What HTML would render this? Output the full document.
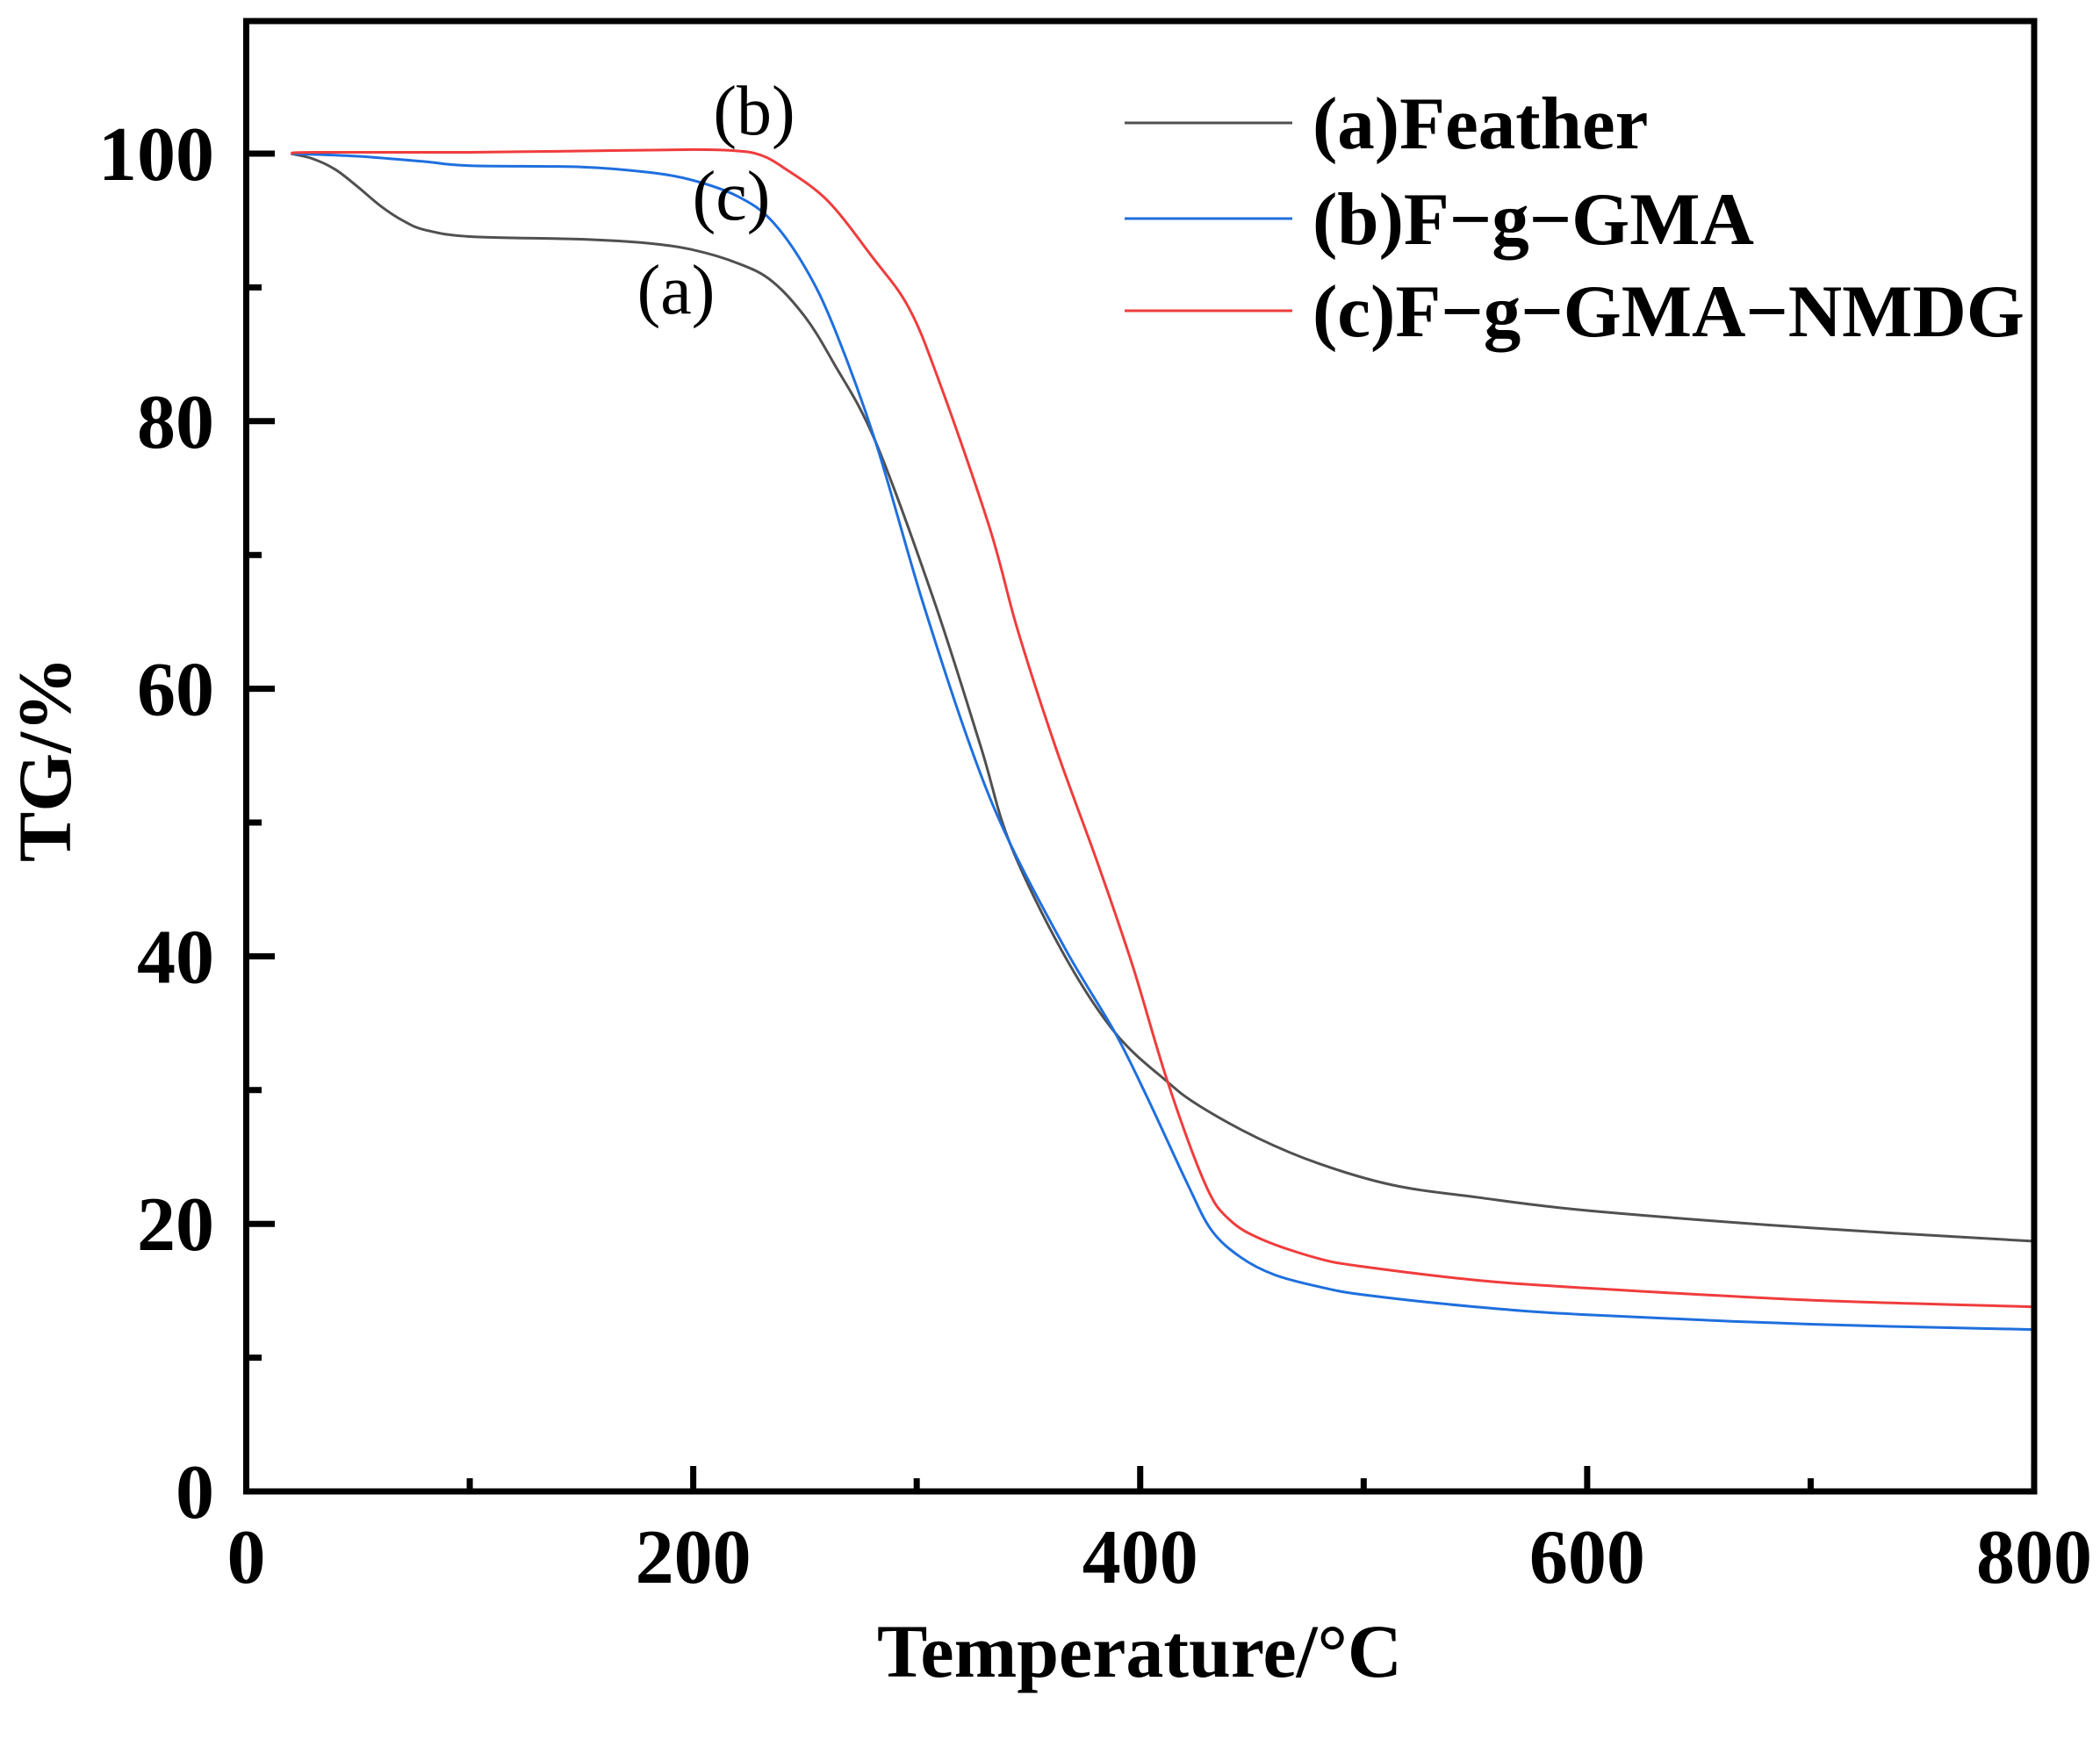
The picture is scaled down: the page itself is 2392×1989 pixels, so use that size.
<!DOCTYPE html>
<html><head><meta charset="utf-8">
<style>
html,body{margin:0;padding:0;background:#fff;}
svg{display:block;}
text{font-family:"Liberation Serif",serif;}
</style></head>
<body>
<svg id="s" width="2392" height="1989" viewBox="0 0 2392 1989" xmlns="http://www.w3.org/2000/svg">
<g id="curves" fill="none" stroke-width="3" stroke-linejoin="round"></g>
<rect x="280.5" y="24" width="2036.5" height="1675" fill="none" stroke="#000" stroke-width="7"/>
<g id="ticks" stroke="#000" stroke-width="7"></g>
<g font-weight="bold" font-size="88" fill="#000" id="labels"></g>
<text x="1298" y="1910" font-size="86" font-weight="bold" text-anchor="middle">Temperature/°C</text>
<text transform="translate(80,865) rotate(-90)" font-size="86" font-weight="bold" text-anchor="middle">TG/%</text>
<line x1="1281" y1="140" x2="1472" y2="140" stroke="#505050" stroke-width="3"/>
<line x1="1281" y1="249" x2="1472" y2="249" stroke="#1f6fde" stroke-width="3"/>
<line x1="1281" y1="354" x2="1472" y2="354" stroke="#f03c3c" stroke-width="3"/>
<g font-size="85" font-weight="bold">
<text x="1495" y="169">(a)Feather</text>
<text x="1495" y="278">(b)F−g−GMA</text>
<text x="1495" y="383">(c)F−g−GMA−NMDG</text>
</g>
<g font-size="80" text-anchor="middle">
<text x="859" y="153">(b)</text>
<text x="833" y="250">(c)</text>
<text x="770" y="357">(a)</text>
</g>
</svg>
<script>
(function(){
var NS="http://www.w3.org/2000/svg";
function X(t){return 280.5+t*2.5456;}
function Y(v){return 1699-v*15.24;}
var ticks=document.getElementById('ticks'),labels=document.getElementById('labels');
function ln(x1,y1,x2,y2){var l=document.createElementNS(NS,'line');l.setAttribute('x1',x1);l.setAttribute('y1',y1);l.setAttribute('x2',x2);l.setAttribute('y2',y2);ticks.appendChild(l);}
function tx(x,y,s,a){var t=document.createElementNS(NS,'text');t.setAttribute('x',x);t.setAttribute('y',y);t.setAttribute('text-anchor',a);t.textContent=s;labels.appendChild(t);}
for(var t=0;t<=800;t+=100){var x=X(t);if(t%200==0){ln(x,1699,x,1670);tx(x,1803,String(t),'middle');}else if(t>0&&t<800){ln(x,1699,x,1684);}}
for(var v=0;v<=100;v+=10){var y=Y(v);if(v%20==0){ln(280.5,y,313,y);tx(244,y+30,String(v),'end');}else{ln(280.5,y,298,y);}}
var data={
'#505050':[[20,100],[30,99.6],[40,98.8],[50,97.5],[60,96.1],[70,95.0],[80,94.3],[100,93.8],[150,93.6],[180,93.3],[200,92.8],[220,91.8],[235,90.5],[250,87.8],[263,84.3],[281.5,78.5],[307.5,66.7],[328.6,55.7],[341.6,48.5],[365,40.4],[388.7,34.3],[412.3,30.6],[426.7,28.8],[452.8,26.4],[480,24.5],[513,22.9],[550,22],[600,21],[700,19.7],[800,18.7]],
'#1f6fde':[[20,100],[50,99.8],[80,99.4],[100,99.1],[150,99],[180,98.6],[200,98],[220,96.8],[235,95],[250,91.5],[263,87],[281.5,78.5],[302.3,66.7],[324,55.7],[341.6,48.5],[367,40.4],[388.7,34.3],[403,29.5],[421.4,22.9],[432,19.5],[445,17.5],[460,16.2],[480,15.3],[500,14.7],[550,13.8],[600,13.2],[700,12.5],[800,12.1]],
'#f03c3c':[[20,100],[30,100.1],[100,100.1],[150,100.2],[200,100.3],[220,100.2],[230,99.9],[240,99.0],[260,96.5],[280,92.3],[296.4,88.5],[310,83],[332.5,72.1],[345,64.5],[362,55.7],[380.9,47],[396.6,39.3],[412.3,30.6],[429.3,22.9],[440,20.3],[455,18.8],[480,17.4],[500,16.8],[550,15.8],[600,15.2],[700,14.3],[800,13.8]]};
var g=document.getElementById('curves');
for(var c in data){var p=data[c].map(function(d){return [X(d[0]),Y(d[1])];});
var s='M'+p[0][0].toFixed(1)+' '+p[0][1].toFixed(1);
for(var i=0;i<p.length-1;i++){var p0=p[i-1]||p[i],p1=p[i],p2=p[i+1],p3=p[i+2]||p2;
var c1x=p1[0]+(p2[0]-p0[0])/6,c1y=p1[1]+(p2[1]-p0[1])/6,c2x=p2[0]-(p3[0]-p1[0])/6,c2y=p2[1]-(p3[1]-p1[1])/6;
s+=' C'+c1x.toFixed(1)+' '+c1y.toFixed(1)+' '+c2x.toFixed(1)+' '+c2y.toFixed(1)+' '+p2[0].toFixed(1)+' '+p2[1].toFixed(1);}
var pa=document.createElementNS(NS,'path');pa.setAttribute('d',s);pa.setAttribute('stroke',c);g.appendChild(pa);}
})();
</script>
</body></html>
